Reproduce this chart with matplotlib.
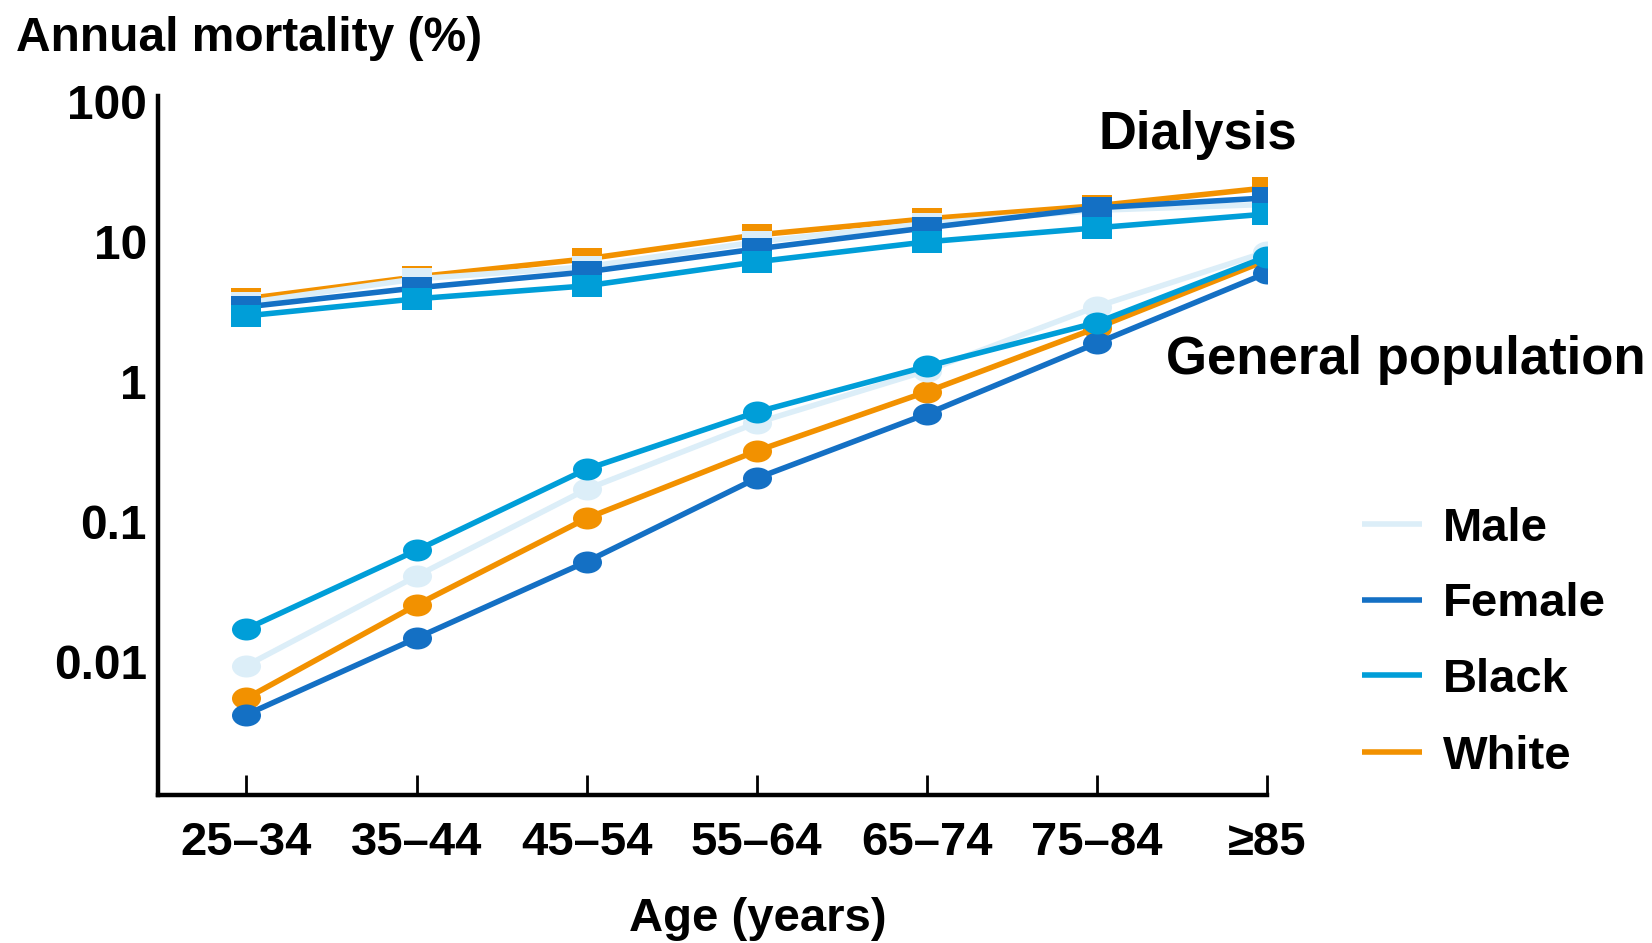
import matplotlib

matplotlib.use("Agg")

import matplotlib.pyplot as plt
from matplotlib.lines import Line2D
from matplotlib.path import Path
from matplotlib.ticker import NullLocator
from matplotlib.transforms import Affine2D

# age groups on the x axis
age_groups = ["25–34", "35–44", "45–54", "55–64", "65–74", "75–84", "≥85"]

# annual mortality (%) on dialysis
dialysis_male = [3.67, 5.44, 6.63, 10.0, 13.5, 16.8, 18.5]
dialysis_female = [3.43, 4.69, 6.1, 8.9, 12.6, 17.5, 20.6]
dialysis_black = [2.96, 3.92, 4.85, 7.2, 10.0, 12.6, 15.8]
dialysis_white = [3.92, 5.62, 7.56, 11.2, 14.6, 18.1, 24.3]

# annual mortality (%) in the general population
general_male = [0.0094, 0.041, 0.171, 0.51, 1.2, 3.45, 8.5]
general_female = [0.0042, 0.0148, 0.052, 0.205, 0.59, 1.89, 6.0]
general_black = [0.0172, 0.0626, 0.238, 0.608, 1.29, 2.65, 7.85]
general_white = [0.0055, 0.0255, 0.106, 0.321, 0.85, 2.43, 7.4]

y_ticks = [0.01, 0.1, 1, 10, 100]
y_tick_labels = ["0.01", "0.1", "1", "10", "100"]

colors = {
    "Male": "#dceef8",
    "Female": "#1470c4",
    "Black": "#009ed8",
    "White": "#f29100",
}

# series drawn bottom to top
series = [
    ("White", dialysis_white, general_white, 2),
    ("Male", dialysis_male, general_male, 3),
    ("Female", dialysis_female, general_female, 4),
    ("Black", dialysis_black, general_black, 5),
]

legend_order = ["Male", "Female", "Black", "White"]

# slightly wide markers (rectangles and ellipses)
wide_square = Path.unit_rectangle().transformed(
    Affine2D().translate(-0.5, -0.5).scale(1.32 * 2, 2)
)
wide_circle = Path.unit_circle().transformed(Affine2D().scale(1.32, 1.0))

plt.rcParams["font.family"] = ["Liberation Sans", "DejaVu Sans"]
plt.rcParams["font.weight"] = "bold"

W, H = 1652, 943
fig = plt.figure(figsize=(W / 100, H / 100), dpi=100)

ax = fig.add_axes([158 / W, 1 - 795 / H, (1267 - 158) / W, (795 - 96) / H])

x = list(range(len(age_groups)))

for name, dia, gen, z in series:
    ax.plot(x, dia, color=colors[name], lw=4, marker=wide_square,
            markersize=20.9, markeredgewidth=0, zorder=z, solid_capstyle="butt")
    ax.plot(x, gen, color=colors[name], lw=4, marker=wide_circle,
            markersize=20.9, markeredgewidth=0, zorder=z, solid_capstyle="butt")

ax.set_yscale("log")
ax.set_ylim(0.00112, 110)
ax.set_xlim(-0.52, 6)

ax.set_yticks(y_ticks)
ax.set_yticklabels(y_tick_labels)
ax.yaxis.set_minor_locator(NullLocator())
ax.set_xticks(x)
ax.set_xticklabels(age_groups)

ax.tick_params(axis="y", length=0, pad=8, labelsize=34.5)
ax.tick_params(axis="x", direction="in", length=14.5, width=2, pad=19,
               labelsize=34)

for side in ["top", "right"]:
    ax.spines[side].set_visible(False)
for side in ["left", "bottom"]:
    ax.spines[side].set_linewidth(3.2)

fig.text(16 / W, 1 - 51 / H, "Annual mortality (%)", fontsize=34.5,
         va="baseline", ha="left")
fig.text(758 / W, 1 - 931 / H, "Age (years)", fontsize=34,
         va="baseline", ha="center")

fig.text(1098 / W, 1 - 148.5 / H, "Dialysis", fontsize=37.8,
         va="baseline", ha="left")
fig.text(1166 / W, 1 - 374 / H, "General population", fontsize=38,
         va="baseline", ha="left")

# legend: short line samples with labels
rows = [523.6, 599.5, 675.3, 752.3]
for name, row in zip(legend_order, rows):
    fig.add_artist(Line2D([1362 / W, 1422 / W], [1 - row / H, 1 - row / H],
                          color=colors[name], lw=4, solid_capstyle="butt"))
    fig.text(1443 / W, 1 - (row + 17) / H, name, fontsize=34,
             va="baseline", ha="left")

plt.savefig("out.png", dpi=100)
plt.close()
